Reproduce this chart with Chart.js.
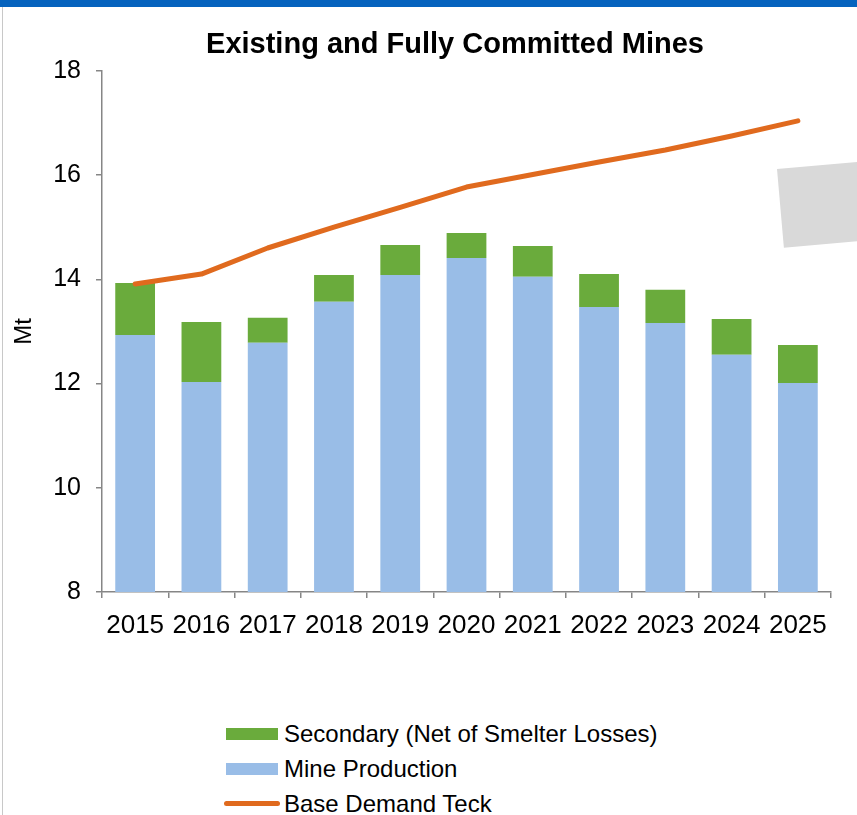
<!DOCTYPE html>
<html>
<head>
<meta charset="utf-8">
<script src="https://cdn.jsdelivr.net/npm/chart.js@4"></script>
<style>
  html, body { margin: 0; padding: 0; background: #fff; }
  body { width: 857px; height: 815px; position: relative; overflow: hidden; font-family: "Liberation Sans", Arial, sans-serif; }
  #topbar { position: absolute; left: 0; top: 0; width: 857px; height: 7px; background: #0563BE; z-index: 2; }
  #leftline { position: absolute; left: 2px; top: 0; width: 1px; height: 815px; background: #c8c8c8; }
  #patch { position: absolute; left: 777px; top: 169px; width: 110px; height: 79px; background: #d9d9d9;
           transform-origin: 0 0; transform: rotate(-5deg); }
  #wrap { position: absolute; left: 0; top: 0; width: 857px; height: 660px; }
  #legend { position: absolute; left: 224px; top: 716px; }
  .item { height: 35px; display: flex; align-items: center; font-size: 24px; color: #000; }
  .swatch { width: 56px; margin-right: 4px; display: flex; justify-content: center; }
</style>
</head>
<body>
<div id="leftline"></div>
<div id="topbar"></div>
<div id="wrap"><canvas id="chart" width="857" height="660"></canvas></div>
<div id="patch"></div>
<div id="legend"></div>
<script>
const years = ['2015', '2016', '2017', '2018', '2019', '2020', '2021', '2022', '2023', '2024', '2025'];
const mineProduction = [12.93, 12.03, 12.78, 13.57, 14.08, 14.41, 14.05, 13.47, 13.16, 12.55, 12.01];
const secondary = [1.00, 1.15, 0.48, 0.51, 0.58, 0.48, 0.59, 0.63, 0.64, 0.69, 0.73];
const baseDemand = [13.91, 14.10, 14.60, 15.00, 15.38, 15.77, 16.01, 16.25, 16.48, 16.75, 17.04];
const yTicks = [8, 10, 12, 14, 16, 18];

const GREEN = '#6AAB3C';
const BLUE = '#99BDE7';
const ORANGE = '#E06A1E';
const AXIS = '#868686';
const FONT = '"Liberation Sans", Arial, sans-serif';

Chart.defaults.font.family = FONT;
Chart.defaults.color = '#000';

// the title sits a little right of the canvas centre, over the plot
const shiftTitle = {
  id: 'shiftTitle',
  afterLayout(chart) {
    const t = chart.titleBlock;
    if (t) { t.left = 53; t.right = chart.width; }
  }
};

const chart = new Chart(document.getElementById('chart'), {
  type: 'bar',
  data: {
    labels: years,
    datasets: [
      {
        label: 'Mine Production',
        data: mineProduction,
        backgroundColor: BLUE,
        stack: 'supply',
        order: 1,
        categoryPercentage: 0.6,
        barPercentage: 1
      },
      {
        label: 'Secondary (Net of Smelter Losses)',
        data: secondary,
        backgroundColor: GREEN,
        stack: 'supply',
        order: 1,
        categoryPercentage: 0.6,
        barPercentage: 1
      },
      {
        type: 'line',
        label: 'Base Demand Teck',
        data: baseDemand,
        borderColor: ORANGE,
        borderWidth: 5,
        borderCapStyle: 'round',
        borderJoinStyle: 'round',
        pointRadius: 0,
        tension: 0,
        stack: 'demand',
        order: 0
      }
    ]
  },
  plugins: [shiftTitle],
  options: {
    responsive: false,
    animation: false,
    layout: { padding: { left: 0, right: 26, top: 0, bottom: 18 } },
    plugins: {
      legend: { display: false },
      tooltip: { enabled: false },
      title: {
        display: true,
        text: 'Existing and Fully Committed Mines',
        color: '#000',
        font: { size: 29, weight: 'bold', family: FONT },
        padding: { top: 28, bottom: 8 }
      }
    },
    scales: {
      x: {
        stacked: true,
        grid: { display: true, drawOnChartArea: false, color: AXIS, tickLength: 6, tickColor: AXIS, lineWidth: 1.5 },
        border: { color: AXIS, width: 1.5 },
        ticks: { font: { size: 26 }, padding: 12, maxRotation: 0, autoSkip: false },
        afterFit: s => { s.height = 50; }
      },
      y: {
        stacked: true,
        min: 8,
        max: 18,
        afterBuildTicks: s => { s.ticks = yTicks.map(v => ({ value: v })); },
        grid: { display: true, drawOnChartArea: false, tickLength: 6, tickColor: AXIS, lineWidth: 1.5 },
        border: { color: AXIS, width: 1.5 },
        ticks: { font: { size: 25 }, padding: 15 },
        title: { display: true, text: 'Mt', font: { size: 24 }, padding: { top: 10, bottom: 0 } },
        afterFit: s => { s.width = 102; }
      }
    }
  }
});

// legend rows, listed top to bottom
const legendOrder = [1, 0, 2];
const legendEl = document.getElementById('legend');
legendOrder.forEach(i => {
  const ds = chart.data.datasets[i];
  const row = document.createElement('div');
  row.className = 'item';
  const sw = document.createElement('div');
  sw.className = 'swatch';
  const mark = document.createElement('div');
  if (ds.type === 'line') {
    mark.style.cssText = `width:56px;height:5px;border-radius:3px;background:${ds.borderColor}`;
  } else {
    mark.style.cssText = `width:52px;height:12px;background:${ds.backgroundColor}`;
  }
  sw.appendChild(mark);
  row.appendChild(sw);
  row.appendChild(document.createTextNode(ds.label));
  legendEl.appendChild(row);
});
</script>
</body>
</html>
